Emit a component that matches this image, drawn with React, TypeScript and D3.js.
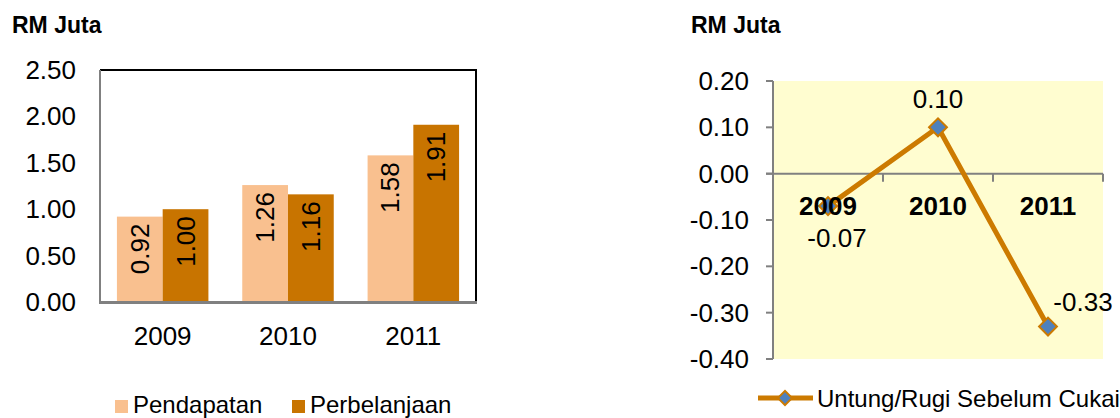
import React, { useRef, useEffect } from 'react';
import * as d3 from 'd3';

const years = ['2009', '2010', '2011'];
const pendapatan = [0.92, 1.26, 1.58];
const perbelanjaan = [1.0, 1.16, 1.91];
const barSeries = ['Pendapatan', 'Perbelanjaan'];
const barTicks = [0, 0.5, 1.0, 1.5, 2.0, 2.5];

const untungRugi = [-0.07, 0.1, -0.33];
const lineTicks = [0.2, 0.1, 0.0, -0.1, -0.2, -0.3, -0.4];
const lineSeries = 'Untung/Rugi Sebelum Cukai';

const FONT = '"Liberation Sans", Arial, sans-serif';
const LIGHT = '#F9C08F';
const DARK = '#C87400';
const LINE = '#CC7A00';
const MARKER = '#4F81BD';
const TICK_SIZE = 26;

const App = () => {
  const ref = useRef<SVGSVGElement | null>(null);

  useEffect(() => {
    if (!ref.current) return;
    const svg = d3.select(ref.current);
    svg.selectAll('*').remove();

    // ---------- left: bar chart ----------
    const left = svg.append('g');
    const bx0 = 100, bx1 = 476, by0 = 70, by1 = 302;

    const yBar = d3.scaleLinear().domain([0, 2.5]).range([by1, by0]);
    const xBar = d3.scaleBand().domain(years).range([bx0, bx1])
      .paddingInner(0.27).paddingOuter(0.135);
    const xSub = d3.scaleBand().domain(barSeries).range([0, xBar.bandwidth()]);

    const rows = years.map((y, i) => ({ year: y, vals: [pendapatan[i], perbelanjaan[i]] }));
    const colors = d3.scaleOrdinal<string, string>().domain(barSeries).range([LIGHT, DARK]);

    left.append('text').attr('x', 12).attr('y', 33)
      .attr('font-family', FONT).attr('font-weight', 'bold').attr('font-size', 23)
      .text('RM Juta');

    // frame: top and right black
    left.append('path')
      .attr('d', `M${bx0},${by0}H${bx1}V${by1}`)
      .attr('fill', 'none').attr('stroke', '#000').attr('stroke-width', 2);

    const groups = left.selectAll('g.grp').data(rows).join('g')
      .attr('class', 'grp')
      .attr('transform', d => `translate(${xBar(d.year)},0)`);

    groups.selectAll('rect').data(d => d.vals.map((v, j) => ({ key: barSeries[j], v })))
      .join('rect')
      .attr('x', d => xSub(d.key)!)
      .attr('width', xSub.bandwidth())
      .attr('y', d => yBar(d.v))
      .attr('height', d => by1 - yBar(d.v))
      .attr('fill', d => colors(d.key));

    groups.selectAll('text').data(d => d.vals.map((v, j) => ({ key: barSeries[j], v })))
      .join('text')
      .attr('transform', d => `translate(${xSub(d.key)! + xSub.bandwidth() / 2},${yBar(d.v) + 7}) rotate(-90)`)
      .attr('text-anchor', 'end')
      .attr('dominant-baseline', 'central')
      .attr('font-family', FONT).attr('font-size', TICK_SIZE)
      .text(d => d.v.toFixed(2));

    // left axis and bottom axis (gray)
    left.append('line').attr('x1', bx0).attr('x2', bx0).attr('y1', by0).attr('y2', by1 + 1)
      .attr('stroke', '#808080').attr('stroke-width', 2);
    left.append('line').attr('x1', bx0 - 1).attr('x2', bx1 + 1).attr('y1', by1 + 0.5).attr('y2', by1 + 0.5)
      .attr('stroke', '#808080').attr('stroke-width', 3);

    left.selectAll('text.ytick').data(barTicks).join('text')
      .attr('class', 'ytick')
      .attr('x', 76).attr('y', d => yBar(d))
      .attr('text-anchor', 'end').attr('dominant-baseline', 'central')
      .attr('font-family', FONT).attr('font-size', TICK_SIZE)
      .text(d => d.toFixed(2));

    left.selectAll('text.xtick').data(years).join('text')
      .attr('class', 'xtick')
      .attr('x', d => xBar(d)! + xBar.bandwidth() / 2).attr('y', 336)
      .attr('text-anchor', 'middle').attr('dominant-baseline', 'central')
      .attr('font-family', FONT).attr('font-size', TICK_SIZE)
      .text(d => d);

    // legend
    const legX = [115, 292];
    barSeries.forEach((s, i) => {
      left.append('rect').attr('x', legX[i]).attr('y', 400).attr('width', 13).attr('height', 13)
        .attr('fill', colors(s));
      left.append('text').attr('x', legX[i] + 18).attr('y', 413)
        .attr('font-family', FONT).attr('font-size', 24).text(s);
    });

    // ---------- right: line chart ----------
    const right = svg.append('g');
    const lx0 = 773, lx1 = 1103, ly0 = 81, ly1 = 359;
    const yLine = d3.scaleLinear().domain([-0.4, 0.2]).range([ly1, ly0]);
    const xLine = d3.scaleBand().domain(years).range([lx0, lx1]);
    const cx = (y: string) => xLine(y)! + xLine.bandwidth() / 2;

    right.append('text').attr('x', 691).attr('y', 33)
      .attr('font-family', FONT).attr('font-weight', 'bold').attr('font-size', 23)
      .text('RM Juta');

    right.append('rect').attr('x', lx0).attr('y', ly0).attr('width', lx1 - lx0).attr('height', ly1 - ly0)
      .attr('fill', '#FFFDD0');

    // y axis
    right.append('line').attr('x1', lx0).attr('x2', lx0).attr('y1', ly0).attr('y2', ly1)
      .attr('stroke', '#808080').attr('stroke-width', 2);
    right.selectAll('line.ytk').data(lineTicks).join('line')
      .attr('class', 'ytk')
      .attr('x1', lx0 - 7).attr('x2', lx0).attr('y1', d => yLine(d)).attr('y2', d => yLine(d))
      .attr('stroke', '#808080').attr('stroke-width', 2);
    right.selectAll('text.ytick').data(lineTicks).join('text')
      .attr('class', 'ytick')
      .attr('x', 749).attr('y', d => yLine(d))
      .attr('text-anchor', 'end').attr('dominant-baseline', 'central')
      .attr('font-family', FONT).attr('font-size', TICK_SIZE)
      .text(d => d.toFixed(2));

    // category axis at zero
    const y0 = yLine(0);
    right.append('line').attr('x1', lx0 - 7).attr('x2', lx1).attr('y1', y0).attr('y2', y0)
      .attr('stroke', '#808080').attr('stroke-width', 2);
    right.selectAll('line.xtk').data(years).join('line')
      .attr('class', 'xtk')
      .attr('x1', d => xLine(d)! + xLine.bandwidth()).attr('x2', d => xLine(d)! + xLine.bandwidth())
      .attr('y1', y0).attr('y2', y0 + 8)
      .attr('stroke', '#808080').attr('stroke-width', 2);

    const pts = years.map((y, i) => ({ year: y, v: untungRugi[i] }));
    const line = d3.line<{ year: string; v: number }>().x(d => cx(d.year)).y(d => yLine(d.v));
    right.append('path').datum(pts).attr('d', line)
      .attr('fill', 'none').attr('stroke', LINE).attr('stroke-width', 5).attr('stroke-linejoin', 'round');

    const diamond = d3.symbol().type(d3.symbolSquare).size(160);
    right.selectAll('path.mk').data(pts).join('path')
      .attr('class', 'mk')
      .attr('d', diamond)
      .attr('transform', d => `translate(${cx(d.year)},${yLine(d.v)}) rotate(45)`)
      .attr('fill', MARKER).attr('stroke', LINE).attr('stroke-width', 2);

    right.selectAll('text.xtick').data(years).join('text')
      .attr('class', 'xtick')
      .attr('x', d => cx(d)).attr('y', 206)
      .attr('text-anchor', 'middle').attr('dominant-baseline', 'central')
      .attr('font-family', FONT).attr('font-weight', 'bold').attr('font-size', TICK_SIZE)
      .text(d => d);

    const labelOffset = [[9, 32], [0, -28], [35, -25]];
    right.selectAll('text.lbl').data(pts).join('text')
      .attr('class', 'lbl')
      .attr('x', (d, i) => cx(d.year) + labelOffset[i][0])
      .attr('y', (d, i) => yLine(d.v) + labelOffset[i][1])
      .attr('text-anchor', 'middle').attr('dominant-baseline', 'central')
      .attr('font-family', FONT).attr('font-size', TICK_SIZE)
      .text(d => d.v.toFixed(2));

    // legend
    right.append('line').attr('x1', 758).attr('x2', 813).attr('y1', 398).attr('y2', 398)
      .attr('stroke', LINE).attr('stroke-width', 5);
    right.append('path').attr('d', d3.symbol().type(d3.symbolSquare).size(100)())
      .attr('transform', 'translate(785,398) rotate(45)')
      .attr('fill', MARKER).attr('stroke', LINE).attr('stroke-width', 2);
    right.append('text').attr('x', 817).attr('y', 407)
      .attr('font-family', FONT).attr('font-size', 24).text(lineSeries);
  }, []);

  return (
    <svg ref={ref} width={1120} height={418}
      style={{ position: 'absolute', left: 0, top: 0, background: '#fff' }} />
  );
};

export default App;
